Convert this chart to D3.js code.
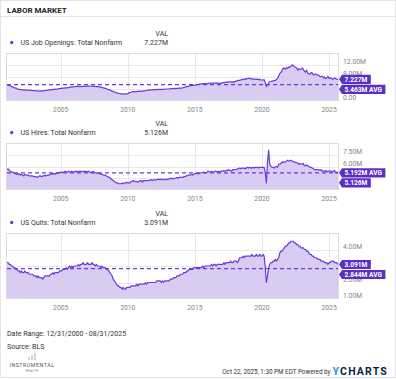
<!DOCTYPE html>
<html>
<head>
<meta charset="utf-8">
<script src="https://cdn.jsdelivr.net/npm/d3@7"></script>
<style>
  body { margin: 0; background: #fff; }
  svg text { font-family: Roboto, "Liberation Sans", sans-serif; }
</style>
</head>
<body>
<svg id="chart" width="396" height="379"></svg>
<script>
// monthly values, Dec 2000 .. Aug 2025 (millions)
const openings = [5.5,
  5.3, 5.2, 5.0, 4.9, 4.7, 4.5, 4.4, 4.3, 4.1, 3.9, 3.9, 3.8,
  3.8, 3.7, 3.6, 3.7, 3.6, 3.6, 3.6, 3.5, 3.6, 3.5, 3.5, 3.4,
  3.5, 3.4, 3.3, 3.4, 3.4, 3.3, 3.4, 3.4, 3.4, 3.5, 3.5, 3.6,
  3.6, 3.7, 3.7, 3.8, 3.9, 3.8, 4.0, 3.9, 4.0, 4.1, 4.1, 4.2,
  4.2, 4.3, 4.3, 4.4, 4.4, 4.4, 4.5, 4.6, 4.6, 4.7, 4.7, 4.7,
  4.8, 4.9, 4.9, 4.8, 4.9, 4.9, 4.8, 4.9, 4.9, 5.0, 4.9, 5.0,
  4.9, 5.0, 5.0, 4.9, 5.0, 4.9, 4.9, 4.8, 4.8, 4.8, 4.7, 4.6,
  4.5, 4.4, 4.3, 4.2, 4.1, 3.9, 3.8, 3.7, 3.5, 3.3, 3.1, 3.0,
  2.9, 2.7, 2.6, 2.5, 2.5, 2.4, 2.3, 2.4, 2.4, 2.3, 2.4, 2.5,
  2.7, 2.8, 2.9, 3.1, 3.1, 3.0, 3.1, 3.1, 3.2, 3.2, 3.3, 3.2,
  3.3, 3.4, 3.4, 3.5, 3.5, 3.6, 3.7, 3.6, 3.7, 3.7, 3.7, 3.8,
  3.8, 3.8, 3.9, 3.9, 3.8, 3.9, 3.9, 3.9, 3.9, 4.0, 4.0, 4.0,
  4.0, 4.1, 4.1, 4.1, 4.1, 4.2, 4.1, 4.2, 4.2, 4.3, 4.3, 4.3,
  4.4, 4.5, 4.6, 4.7, 4.8, 4.9, 5.0, 5.1, 5.1, 5.2, 5.2, 5.3,
  5.4, 5.5, 5.5, 5.6, 5.6, 5.7, 5.8, 5.8, 5.7, 5.8, 5.8, 5.9,
  6.0, 5.9, 6.0, 6.0, 5.9, 6.0, 6.1, 5.9, 6.0, 5.9, 5.9, 6.0,
  6.1, 6.1, 6.2, 6.2, 6.3, 6.4, 6.4, 6.4, 6.3, 6.4, 6.3, 6.5,
  6.6, 6.8, 6.9, 6.9, 7.0, 7.2, 7.1, 7.3, 7.4, 7.3, 7.5, 7.5,
  7.6, 7.4, 7.4, 7.4, 7.3, 7.3, 7.2, 7.3, 7.1, 7.2, 7.0, 7.0,
  7.0, 7.1, 6.2, 4.8, 5.4, 6.0, 6.5, 6.5, 6.6, 6.7, 6.8, 6.9,
  7.2, 7.6, 8.3, 9.2, 9.5, 10.2, 11.0, 10.9, 10.6, 11.1, 10.9, 11.4,
  11.3, 11.5, 12.1, 11.9, 11.4, 11.2, 11.1, 10.3, 10.8, 10.5, 10.5, 11.0,
  10.6, 9.9, 9.6, 10.3, 9.2, 9.1, 8.9, 9.5, 9.3, 8.7, 8.9, 9.0,
  8.7, 8.7, 8.5, 8.1, 8.2, 8.2, 7.7, 8.0, 7.4, 7.8, 8.2, 7.5,
  7.8, 7.6, 7.2, 7.4, 7.7, 7.4, 7.2, 7.227];

const hires = [5.6,
  5.7, 5.5, 5.4, 5.3, 5.3, 5.2, 5.1, 5.1, 5.0, 5.0, 5.1, 4.9,
  5.0, 4.9, 4.8, 5.0, 4.9, 4.9, 4.9, 4.8, 4.8, 4.8, 4.8, 4.7,
  4.7, 4.7, 4.6, 4.7, 4.8, 4.8, 4.7, 4.8, 4.8, 4.9, 4.8, 4.9,
  4.9, 4.9, 5.0, 5.1, 5.0, 5.1, 5.0, 5.2, 5.1, 5.2, 5.2, 5.3,
  5.2, 5.3, 5.3, 5.4, 5.3, 5.3, 5.4, 5.3, 5.3, 5.4, 5.3, 5.3,
  5.4, 5.3, 5.4, 5.3, 5.4, 5.4, 5.3, 5.4, 5.4, 5.3, 5.4, 5.3,
  5.4, 5.3, 5.2, 5.3, 5.4, 5.2, 5.2, 5.2, 5.1, 5.2, 5.1, 5.0,
  5.0, 4.9, 4.9, 4.9, 4.8, 4.7, 4.6, 4.6, 4.4, 4.3, 4.2, 4.1,
  4.0, 3.9, 3.9, 3.8, 3.8, 3.8, 3.9, 3.8, 3.9, 3.9, 4.0, 3.9,
  3.9, 3.9, 4.1, 4.1, 4.2, 4.1, 4.1, 4.1, 4.0, 4.1, 4.2, 4.2,
  4.0, 4.2, 4.2, 4.2, 4.2, 4.2, 4.2, 4.3, 4.3, 4.2, 4.3, 4.3,
  4.3, 4.3, 4.4, 4.3, 4.4, 4.3, 4.4, 4.3, 4.3, 4.4, 4.3, 4.4,
  4.4, 4.5, 4.5, 4.4, 4.5, 4.5, 4.5, 4.6, 4.5, 4.6, 4.6, 4.6,
  4.6, 4.7, 4.7, 4.8, 4.8, 4.9, 4.9, 4.9, 5.0, 4.9, 5.0, 5.1,
  5.1, 5.1, 5.1, 5.1, 5.2, 5.2, 5.2, 5.3, 5.2, 5.2, 5.3, 5.4,
  5.3, 5.3, 5.4, 5.3, 5.3, 5.4, 5.4, 5.3, 5.4, 5.3, 5.4, 5.4,
  5.4, 5.5, 5.4, 5.5, 5.5, 5.6, 5.5, 5.5, 5.4, 5.6, 5.6, 5.6,
  5.6, 5.7, 5.7, 5.8, 5.7, 5.8, 5.8, 5.8, 5.7, 5.8, 5.9, 5.8,
  5.9, 5.8, 5.8, 5.9, 5.8, 5.9, 5.9, 5.9, 5.8, 5.9, 5.9, 5.9,
  5.9, 5.9, 5.2, 3.9, 6.6, 8.1, 6.3, 6.0, 5.9, 5.9, 5.8, 6.0,
  6.0, 5.9, 6.3, 6.3, 6.4, 6.6, 6.5, 6.6, 6.6, 6.7, 6.8, 6.7,
  6.7, 6.8, 6.7, 6.6, 6.6, 6.5, 6.5, 6.4, 6.3, 6.4, 6.3, 6.3,
  6.4, 6.1, 6.1, 6.2, 6.1, 6.0, 5.9, 5.9, 5.8, 5.7, 5.6, 5.6,
  5.6, 5.6, 5.6, 5.5, 5.6, 5.4, 5.4, 5.4, 5.5, 5.3, 5.4, 5.4,
  5.4, 5.4, 5.3, 5.4, 5.5, 5.2, 5.3, 5.126];

const quits = [3.2,
  3.2, 3.1, 3.1, 3.0, 3.0, 2.9, 2.9, 2.8, 2.8, 2.7, 2.7, 2.6,
  2.7, 2.6, 2.6, 2.7, 2.6, 2.6, 2.6, 2.5, 2.5, 2.5, 2.5, 2.4,
  2.4, 2.4, 2.3, 2.4, 2.3, 2.3, 2.3, 2.2, 2.3, 2.4, 2.4, 2.4,
  2.4, 2.4, 2.5, 2.5, 2.6, 2.5, 2.6, 2.6, 2.6, 2.6, 2.7, 2.7,
  2.7, 2.8, 2.8, 2.8, 2.9, 2.8, 2.9, 3.0, 2.9, 3.0, 2.9, 3.0,
  3.0, 3.0, 3.0, 3.1, 3.0, 3.1, 3.1, 3.2, 3.1, 3.1, 3.1, 3.2,
  3.1, 3.1, 3.1, 3.2, 3.1, 3.1, 3.0, 3.1, 3.0, 3.0, 3.0, 2.9,
  3.0, 2.9, 2.9, 2.9, 2.8, 2.8, 2.7, 2.6, 2.5, 2.4, 2.2, 2.1,
  2.0, 1.9, 1.8, 1.8, 1.7, 1.7, 1.6, 1.7, 1.6, 1.6, 1.7, 1.7,
  1.7, 1.7, 1.8, 1.8, 1.8, 1.8, 1.8, 1.9, 1.8, 1.9, 1.9, 1.9,
  1.9, 1.9, 1.9, 2.0, 1.9, 2.0, 2.0, 2.0, 2.0, 2.0, 2.0, 2.0,
  2.0, 2.1, 2.1, 2.1, 2.1, 2.0, 2.1, 2.0, 2.1, 2.1, 2.1, 2.1,
  2.1, 2.2, 2.2, 2.2, 2.3, 2.3, 2.3, 2.4, 2.4, 2.4, 2.5, 2.5,
  2.5, 2.6, 2.6, 2.6, 2.7, 2.7, 2.8, 2.8, 2.8, 2.8, 2.9, 2.9,
  2.9, 2.9, 2.9, 2.9, 2.9, 2.9, 3.0, 2.9, 3.0, 3.0, 3.0, 3.0,
  3.0, 3.0, 3.1, 3.0, 3.1, 3.1, 3.0, 3.1, 3.1, 3.1, 3.1, 3.1,
  3.1, 3.2, 3.1, 3.2, 3.2, 3.2, 3.2, 3.3, 3.2, 3.2, 3.3, 3.3,
  3.3, 3.2, 3.3, 3.5, 3.5, 3.5, 3.6, 3.5, 3.6, 3.6, 3.6, 3.6,
  3.6, 3.6, 3.7, 3.6, 3.6, 3.6, 3.7, 3.6, 3.6, 3.7, 3.6, 3.6,
  3.7, 3.6, 2.9, 2.0, 2.4, 2.9, 3.1, 3.2, 3.2, 3.3, 3.3, 3.4,
  3.3, 3.4, 3.5, 3.8, 3.9, 3.9, 4.0, 4.1, 4.2, 4.2, 4.3, 4.4,
  4.4, 4.5, 4.5, 4.5, 4.4, 4.4, 4.3, 4.3, 4.2, 4.2, 4.1, 4.1,
  4.1, 4.0, 4.0, 3.9, 3.9, 3.8, 3.7, 3.7, 3.6, 3.6, 3.5, 3.5,
  3.5, 3.4, 3.4, 3.4, 3.3, 3.3, 3.3, 3.2, 3.2, 3.2, 3.1, 3.2,
  3.2, 3.3, 3.3, 3.3, 3.2, 3.2, 3.2, 3.091];

const seriesNames = ['US Job Openings: Total Nonfarm', 'US Hires: Total Nonfarm', 'US Quits: Total Nonfarm'];
const averages = [5.463, 5.192, 2.844];
const ticksOpenings = [0, 4, 8, 12, 16];
const ticksHires = [3, 4.5, 6, 7.5, 9];
const ticksQuits = [1, 2, 3, 4, 5];
const yearTicks = [2005, 2010, 2015, 2020, 2025];

const svg = d3.select('#chart');
const width = 396;
const purple = '#6a3bd6';
const boxColor = '#5c2fc4';
const areaColor = '#d8ccf3';
const gridColor = '#e8e8e8';

const dates = openings.map((d, i) => new Date(Date.UTC(2001, i, 0)));
const x = d3.scaleUtc()
  .domain([dates[0], dates[dates.length - 1]])
  .range([7, 338]);

const fmtTick = t => t === 0 ? '0.00' : d3.format('.2f')(t) + 'M';
const fmtVal = v => d3.format('.3f')(v) + 'M';

// frame + title
svg.append('rect')
  .attr('x', 0.5).attr('y', 0.5).attr('width', width - 1).attr('height', 377)
  .attr('fill', 'none').attr('stroke', '#e4e4e4');

svg.append('text')
  .attr('x', 7).attr('y', 10).attr('dy', '0.35em')
  .attr('font-size', 8).attr('font-weight', 'bold').attr('fill', '#222')
  .text('LABOR MARKET');

svg.append('line')
  .attr('x1', 0).attr('x2', width).attr('y1', 16.5).attr('y2', 16.5)
  .attr('stroke', '#e4e4e4');

const panels = [
  {name: seriesNames[0], values: openings, avg: averages[0], ticks: ticksOpenings, top: 53, bottom: 101},
  {name: seriesNames[1], values: hires, avg: averages[1], ticks: ticksHires, top: 143, bottom: 190},
  {name: seriesNames[2], values: quits, avg: averages[2], ticks: ticksQuits, top: 233, bottom: 299}
];

panels.forEach(p => {
  const y = d3.scaleLinear()
    .domain([p.ticks[0], p.ticks[p.ticks.length - 1]])
    .range([p.bottom, p.top]);
  const g = svg.append('g');
  const data = p.values.map((v, i) => ({date: dates[i], v: v}));

  // legend
  g.append('circle')
    .attr('cx', 11.7).attr('cy', p.top - 10.5).attr('r', 1.7).attr('fill', purple);
  g.append('text')
    .attr('x', 20.5).attr('y', p.top - 10.5).attr('dy', '0.35em')
    .attr('font-size', 7).attr('fill', '#333')
    .text(p.name);
  g.append('text')
    .attr('x', 168).attr('y', p.top - 19.8).attr('dy', '0.35em')
    .attr('text-anchor', 'end').attr('font-size', 7).attr('fill', '#333')
    .text('VAL');
  g.append('text')
    .attr('x', 168).attr('y', p.top - 10.5).attr('dy', '0.35em')
    .attr('text-anchor', 'end').attr('font-size', 7).attr('fill', '#333')
    .text(fmtVal(p.values[p.values.length - 1]));

  // grid
  g.selectAll('.hgrid')
    .data(p.ticks.slice(1, -1))
    .enter().append('line')
      .attr('x1', 7).attr('x2', 338)
      .attr('y1', d => Math.round(y(d)) + 0.5).attr('y2', d => Math.round(y(d)) + 0.5)
      .attr('stroke', gridColor);
  g.selectAll('.vgrid')
    .data(yearTicks)
    .enter().append('line')
      .attr('x1', d => Math.round(x(Date.UTC(d, 0, 1))) + 0.5)
      .attr('x2', d => Math.round(x(Date.UTC(d, 0, 1))) + 0.5)
      .attr('y1', p.top).attr('y2', p.bottom)
      .attr('stroke', gridColor);

  // area + line
  g.append('path')
    .datum(data)
    .attr('fill', areaColor)
    .attr('d', d3.area().x(d => x(d.date)).y0(p.bottom).y1(d => y(d.v)));
  g.append('path')
    .datum(data)
    .attr('fill', 'none').attr('stroke', purple).attr('stroke-width', 1.2)
    .attr('stroke-linejoin', 'round')
    .attr('d', d3.line().x(d => x(d.date)).y(d => y(d.v)));

  // average
  g.append('line')
    .attr('x1', 7).attr('x2', 338)
    .attr('y1', y(p.avg)).attr('y2', y(p.avg))
    .attr('stroke', purple).attr('stroke-width', 1.3).attr('stroke-dasharray', '4,3');

  // border
  g.append('rect')
    .attr('x', 6.5).attr('y', p.top + 0.5)
    .attr('width', 332).attr('height', p.bottom - p.top - 1)
    .attr('fill', 'none').attr('stroke', '#dcdcdc');

  // value / avg flags (lower one pushed down to avoid overlap)
  const last = p.values[p.values.length - 1];
  const flags = [
    {text: fmtVal(last), y: y(last)},
    {text: fmtVal(p.avg) + ' AVG', y: y(p.avg)}
  ].sort((a, b) => a.y - b.y);
  flags[1].y = Math.max(flags[1].y, flags[0].y + 10);

  // y tick labels, those hidden behind a flag are skipped
  g.selectAll('.ylab')
    .data(p.ticks.slice(0, -1).filter(t => flags.every(f => Math.abs(y(t) - 3 - f.y) >= 4.6)))
    .enter().append('text')
      .attr('x', 343).attr('y', d => y(d) - 3).attr('dy', '0.35em')
      .attr('font-size', 6.8).attr('fill', '#858585')
      .text(fmtTick);

  // x labels
  g.selectAll('.xlab')
    .data(yearTicks)
    .enter().append('text')
      .attr('x', d => x(Date.UTC(d, 0, 1)))
      .attr('y', p.bottom + 8.5).attr('dy', '0.35em')
      .attr('text-anchor', 'middle').attr('font-size', 6.8).attr('fill', '#858585')
      .text(d => d);

  flags.forEach(f => {
    const fg = g.append('g');
    const path = fg.append('path').attr('fill', boxColor);
    const t = fg.append('text')
      .attr('x', 344.5).attr('y', f.y).attr('dy', '0.35em')
      .attr('font-size', 6.6).attr('font-weight', 'bold').attr('fill', '#fff')
      .text(f.text);
    const w = t.node().getComputedTextLength();
    const r = 344.5 + w + 3.5;
    path.attr('d', `M339,${f.y} L342,${f.y - 4.6} L${r},${f.y - 4.6} L${r},${f.y + 4.6} L342,${f.y + 4.6} Z`);
  });
});

// footer
svg.append('text')
  .attr('x', 7).attr('y', 333.3).attr('dy', '0.35em')
  .attr('font-size', 7).attr('fill', '#333')
  .text('Date Range: 12/31/2000 - 08/31/2025');
svg.append('text')
  .attr('x', 7).attr('y', 346.7).attr('dy', '0.35em')
  .attr('font-size', 7).attr('fill', '#333')
  .text('Source: BLS');

// small logo
const logo = svg.append('g').attr('stroke', '#777').attr('stroke-width', 0.6);
logo.append('line').attr('x1', 29).attr('x2', 29).attr('y1', 357).attr('y2', 360);
logo.append('line').attr('x1', 32).attr('x2', 32).attr('y1', 355).attr('y2', 360);
logo.append('line').attr('x1', 35).attr('x2', 35).attr('y1', 353).attr('y2', 360);
svg.append('text')
  .attr('x', 32).attr('y', 365.3).attr('dy', '0.35em')
  .attr('text-anchor', 'middle').attr('font-size', 5.2).attr('letter-spacing', 0.6)
  .attr('fill', '#555')
  .text('INSTRUMENTAL');
svg.append('text')
  .attr('x', 32).attr('y', 371.5).attr('dy', '0.35em')
  .attr('text-anchor', 'middle').attr('font-size', 2.8).attr('letter-spacing', 0.4)
  .attr('fill', '#777')
  .text('WEALTH');

svg.append('text')
  .attr('x', 330.5).attr('y', 371.7).attr('dy', '0.35em')
  .attr('text-anchor', 'end').attr('font-size', 6.3).attr('fill', '#333')
  .text('Oct 22, 2025, 1:30 PM EDT Powered by');

const yc = svg.append('text')
  .attr('x', 332.5).attr('y', 371).attr('dy', '0.35em')
  .attr('font-size', 10.5).attr('font-weight', 'bold').attr('letter-spacing', 1.2);
yc.append('tspan').attr('fill', '#1e8fe6').text('Y');
yc.append('tspan').attr('fill', '#0f2344').text('CHARTS');
</script>
</body>
</html>
